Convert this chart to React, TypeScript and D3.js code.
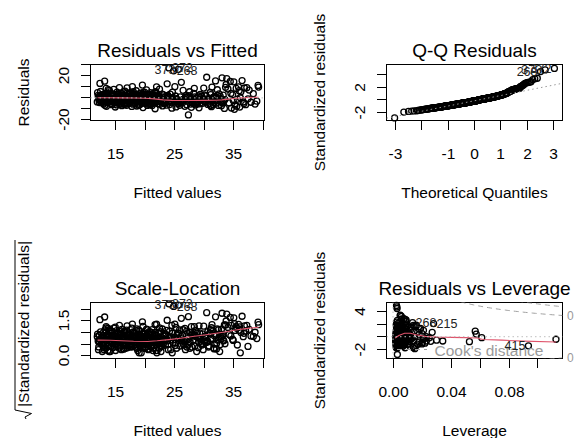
import React from "react";
import * as d3 from "d3";

// lm diagnostics: fitted values, raw residuals and hat values, one entry per observation
const fitted = [
  11.85, 11.9, 12.0, 12.1, 12.2, 13.4, 14.0, 12.3, 13.1, 13.7,
  12.4, 12.6, 12.8, 12.9, 13.0, 13.2, 13.3, 13.5, 13.6, 13.8,
  13.9, 12.5, 12.7, 13.15, 13.45, 13.95, 12.25, 12.95, 13.65, 13.35,
  14.1, 14.25, 14.3, 14.45, 14.5, 14.65, 14.7, 14.85, 14.9, 15.05,
  15.1, 15.2, 15.35, 15.4, 15.5, 15.6, 15.75, 15.8, 15.95, 16.0,
  16.1, 16.25, 16.3, 16.4, 16.55, 16.6, 16.75, 16.8, 16.9, 17.05,
  17.1, 17.2, 17.35, 17.4, 17.5, 17.65, 17.7, 17.8, 17.95, 14.35,
  14.8, 15.25, 15.65, 16.15, 16.5, 16.95, 17.3, 17.85, 15.0, 16.45,
  18.05, 18.1, 18.2, 18.3, 18.4, 18.45, 18.55, 18.6, 18.7, 18.8,
  19.5, 18.9, 19.0, 19.05, 19.15, 19.2, 19.3, 19.35, 19.45, 19.6,
  19.65, 19.7, 19.8, 19.9, 19.95, 20.05, 20.1, 20.2, 20.3, 20.35,
  21.9, 20.45, 20.5, 20.6, 20.7, 20.8, 20.85, 20.95, 21.0, 21.1,
  21.15, 21.25, 21.3, 21.4, 21.5, 21.55, 21.65, 21.7, 21.8, 21.95,
  22.1, 22.3, 22.5, 22.7, 22.9, 23.1, 23.3, 23.5, 23.7, 23.9,
  24.1, 24.0, 24.4, 24.6, 24.8, 25.0, 25.2, 25.6, 25.5, 24.7,
  25.7, 25.9, 26.0, 25.3, 24.2, 23.0, 22.4, 24.5, 25.8, 22.8,
  26.1, 26.3, 26.5, 26.7, 26.9, 27.1, 27.3, 27.5, 27.7, 27.9,
  28.1, 28.3, 28.5, 28.7, 28.9, 29.1, 29.3, 29.5, 29.7, 29.9,
  26.6, 27.2, 27.8, 28.2, 28.8, 29.4, 26.4, 29.8,
  30.1, 30.3, 30.4, 30.6, 30.8, 31.0, 31.2, 31.4, 31.6, 31.9,
  32.0, 32.2, 32.4, 32.6, 32.8, 33.0, 33.2, 33.4, 33.6, 33.8,
  30.9, 31.3, 31.7, 32.1, 32.5, 32.9, 33.3, 33.7, 30.5, 31.8,
  34.0, 34.2, 34.4, 34.6, 34.8, 35.0, 35.2, 35.4, 35.6, 35.8,
  36.0, 36.2, 36.4, 36.6, 36.8, 37.0, 37.2, 37.4, 37.6, 37.9,
  38.3, 38.6, 38.9, 39.1, 39.2, 35.1, 34.5, 35.5, 36.1, 36.7,
  35.9, 34.9,
  12.15, 12.45, 12.75, 13.05, 13.25, 13.55, 13.85, 14.15, 14.4, 14.6,
  14.95, 15.15, 15.45, 15.7, 15.9, 16.05, 16.35, 16.7, 16.85, 17.15,
  17.45, 17.6, 17.9, 18.15, 18.35, 18.5, 18.75, 18.95, 19.1, 19.25,
  19.4, 19.55, 19.75, 19.85, 20.0, 20.15, 20.25, 20.4, 20.55, 20.65,
  20.75, 20.9, 21.05, 21.2, 21.35, 21.45, 21.6, 21.75, 21.85, 22.0,
  22.2, 22.35, 22.6, 22.85, 23.05, 23.2, 23.4, 23.6, 23.8, 24.3,
  24.9, 25.1, 25.4, 26.2, 26.8, 27.0, 27.4, 27.6, 28.0, 28.4,
  28.6, 29.0, 29.2, 29.6, 30.0, 30.2, 30.7, 31.1, 31.5, 32.3,
  32.7, 33.1, 33.5, 12.05, 12.35, 12.65, 12.85, 13.25, 13.75, 14.05,
  14.55, 14.75, 15.15, 15.55, 15.85, 16.2, 16.65, 17.0, 17.25, 17.55,
  17.75, 18.0, 18.25, 18.65, 18.85, 19.05, 19.4, 19.7, 20.05, 20.35,
  20.6, 21.0, 21.3, 21.6, 21.9, 22.25, 22.65, 23.25, 23.85, 24.35,
  25.05, 26.05, 27.05, 28.05, 29.05, 30.05, 31.05, 32.05, 33.05, 16.35,
  13.0, 14.2, 15.3, 16.45, 17.6, 18.6, 19.6, 20.5, 21.5, 22.55,
  23.45, 24.55, 25.45, 26.35, 27.55, 28.45, 29.55, 30.6, 31.7, 32.8,
];

const residuals = [
  -3.7, 4.7, 2.2, -0.8, -4.2, -7.6, -2.1, 13.2, 15.2, 7.6,
  5.8, -1.5, 1.2, -5.6, 3.4, -2.9, 0.6, -4.4, 2.8, -0.9,
  6.9, -3.3, 0.2, -6.8, 4.5, -3.8, 1.9, -1.8, -0.3, 8.6,
  -2.3, 4.1, -6.2, 1.4, -0.7, 7.8, -3.9, 2.6, -8.3, 0.9,
  -1.6, 5.3, -4.8, 3.1, -2.7, 9.4, -5.9, 1.8, -0.4, -7.1,
  3.7, -3.2, 0.5, -1.1, 6.2, -4.3, 2.2, -6.7, 9.1, -2.0,
  1.0, -5.2, 4.6, -0.9, -3.6, 2.9, -7.8, 10.2, 5.7, -1.9,
  -4.6, 3.3, -2.4, 1.5, -5.5, 0.7, -3.0, 4.0, -1.3, -6.0,
  -1.2, 3.6, -5.4, 0.8, -3.1, 6.5, -7.4, 2.1, -0.3, -4.7,
  11.7, -2.2, 1.7, -6.3, 4.4, -1.7, 0.1, -3.8, 2.7, -8.8,
  5.1, -2.6, -0.6, 3.0, -5.0, 1.3, -4.0, 7.2, -1.4, -6.9,
  10.1, -3.4, 0.4, 2.4, -2.9, -5.8, 4.8, -0.8, 1.1, -3.5,
  -7.0, 3.9, -1.9, 0.6, -4.4, 2.0, -9.9, 5.6, -2.5, -0.1,
  -3.2, 1.5, -5.9, -1.1, -7.3, 2.8, -2.4, -4.6, 12.8, 0.4,
  -6.1, 27.3, -3.7, 5.2, 24.6, 10.2, -8.2, 26.0, -2.9, -1.8,
  -5.1, 1.0, -3.9, -0.6, 3.4, -4.1, 7.9, -9.4, -6.8, 0.9,
  14.2, -4.4, -1.2, -7.7, 2.3, -3.0, -15.5, 5.6, -5.6, -0.8,
  -2.6, 8.7, -6.4, 0.2, -3.5, -9.1, 3.1, -1.5, -4.9, 8.9,
  -2.0, 1.2, -8.6, 4.0, -5.3, -2.2, 6.9, -0.4,
  -3.4, 1.8, 18.8, -6.0, -1.0, 4.9, -8.0, -2.8, 0.6, 15.4,
  -4.8, 7.4, -6.9, -0.2, -3.1, 18.3, 2.5, -9.6, 9.6, 17.6,
  -5.2, 9.8, -4.1, -1.6, 3.6, -7.2, -2.3, 12.2, -2.1, 1.4,
  8.1, -4.6, 14.9, -9.3, 2.7, 14.6, -6.5, 8.6, -1.2, 10.0,
  -8.4, 5.5, 15.8, -3.7, 9.0, -6.2, 9.3, -0.9, 7.1, -4.0,
  3.8, -5.6, -3.0, 11.3, 9.8, -10.4, 4.0, -7.7, 0.1, -5.1,
  6.6, -2.4,
  -1.9, 2.4, -4.1, 0.7, -2.6, 3.9, -0.2, -5.1, 1.6, -3.3,
  0.3, -6.4, 2.0, -1.0, 4.3, -2.8, -0.5, 1.1, -4.5, 3.2,
  -2.1, 0.8, -5.7, 1.9, -1.3, 3.5, -3.6, 0.1, -0.9, 2.5,
  -4.9, 1.4, -2.0, 5.2, -0.7, -3.9, 2.9, -1.6, 0.5, -6.0,
  3.1, -2.4, 0.9, -4.6, 1.8, -1.1, 4.6, -3.0, -0.3, 2.1,
  -5.3, 0.6, -2.7, 3.4, -1.4, -4.2, 1.2, -6.6, 2.3, -0.4,
  -3.5, 1.7, -4.8, -2.3, 0.4, -6.2, 2.0, -1.9, -4.4, 1.0,
  -3.8, 0.7, -5.4, -1.2, 2.6, -4.0, -0.8, 3.0, -6.3, -2.5,
  1.3, -4.7, -1.5, 0.4, -2.7, 3.0, -1.0, 1.5, -3.6, 0.2,
  2.8, -1.8, -3.4, 0.6, -5.0, 2.3, -0.6, -2.9, 4.1, -1.2,
  0.9, -4.0, 2.6, -1.7, -6.8, 1.1, -2.2, 3.7, -0.8, -3.1,
  1.6, -5.6, 0.3, -2.1, 4.4, -3.4, -0.2, -5.0, 1.4, -2.6,
  -1.1, -3.0, 0.8, -4.9, 1.9, -2.2, -6.9, 0.5, -3.9, 5.6,
  0.4, -0.9, -2.3, 1.3, -1.5, -0.6, 0.9, -2.4, 1.7, -1.0,
  -2.8, -0.1, -3.2, -1.6, 0.6, -4.3, 1.5, -2.0, -0.5, -3.7,
];

const leverage = [
  0.0343, 0.0567, 0.0574, 0.0612, 0.0527, 0.0934, 0.1124, 0.009, 0.0075, 0.008,
  0.012, 0.013, 0.012, 0.011, 0.01, 0.01, 0.009, 0.009, 0.008, 0.008,
  0.008, 0.014, 0.015, 0.01, 0.009, 0.008, 0.018, 0.012, 0.008, 0.009,
  0.0078, 0.0076, 0.0075, 0.0073, 0.0072, 0.007, 0.007, 0.0068, 0.0067, 0.0066,
  0.0065, 0.0064, 0.0062, 0.0062, 0.0061, 0.006, 0.0058, 0.0058, 0.0057, 0.0056,
  0.0055, 0.0054, 0.0054, 0.0053, 0.0052, 0.0051, 0.005, 0.005, 0.0049, 0.0048,
  0.0048, 0.0047, 0.0046, 0.0046, 0.0045, 0.0044, 0.0044, 0.0043, 0.0042, 0.0075,
  0.0069, 0.0063, 0.0059, 0.0055, 0.0052, 0.0049, 0.0046, 0.0043, 0.0066, 0.0053,
  0.0042, 0.0042, 0.0041, 0.0041, 0.004, 0.004, 0.0039, 0.0039, 0.0038, 0.0038,
  0.0034, 0.0037, 0.0037, 0.0036, 0.0036, 0.0036, 0.0035, 0.0035, 0.0034, 0.0034,
  0.0033, 0.0033, 0.0033, 0.0032, 0.0032, 0.0032, 0.0031, 0.0031, 0.0031, 0.003,
  0.0027, 0.003, 0.003, 0.0029, 0.0029, 0.0029, 0.0028, 0.0028, 0.0028, 0.0028,
  0.0027, 0.0027, 0.0027, 0.0027, 0.0026, 0.0026, 0.0026, 0.0026, 0.0026, 0.0025,
  0.0025, 0.0024, 0.0024, 0.0024, 0.0023, 0.0023, 0.0023, 0.0023, 0.0025, 0.0022,
  0.0022, 0.0024, 0.0022, 0.0022, 0.0028, 0.0022, 0.0022, 0.0026, 0.0022, 0.0022,
  0.0022, 0.0023, 0.0023, 0.0022, 0.0022, 0.0023, 0.0024, 0.0022, 0.0023, 0.0024,
  0.003, 0.0024, 0.0025, 0.0025, 0.0026, 0.0026, 0.003, 0.0027, 0.0028, 0.0028,
  0.0029, 0.003, 0.003, 0.0031, 0.0032, 0.0033, 0.0034, 0.0035, 0.0036, 0.0037,
  0.0025, 0.0026, 0.0028, 0.0029, 0.0031, 0.0034, 0.0025, 0.0037,
  0.004, 0.0042, 0.005, 0.0044, 0.0046, 0.0048, 0.005, 0.0052, 0.0055, 0.006,
  0.0062, 0.0065, 0.0068, 0.0071, 0.0074, 0.005, 0.008, 0.0083, 0.0086, 0.0058,
  0.0047, 0.0051, 0.0057, 0.0063, 0.007, 0.0076, 0.0082, 0.0135, 0.0043, 0.0059,
  0.012, 0.018, 0.0085, 0.014, 0.02, 0.009, 0.017, 0.013, 0.022, 0.016,
  0.015, 0.021, 0.0075, 0.023, 0.015, 0.02, 0.016, 0.025, 0.019, 0.026,
  0.027, 0.022, 0.03, 0.028, 0.014, 0.015, 0.017, 0.016, 0.023, 0.02,
  0.018, 0.021,
  0.012, 0.011, 0.011, 0.01, 0.01, 0.009, 0.008, 0.0077, 0.0074, 0.0071,
  0.0067, 0.0065, 0.0062, 0.006, 0.0057, 0.0056, 0.0054, 0.0051, 0.005, 0.0048,
  0.0046, 0.0045, 0.0043, 0.0042, 0.0041, 0.004, 0.0039, 0.0038, 0.0037, 0.0036,
  0.0035, 0.0034, 0.0034, 0.0033, 0.0032, 0.0032, 0.0031, 0.0031, 0.003, 0.0029,
  0.0029, 0.0028, 0.0028, 0.0027, 0.0027, 0.0027, 0.0026, 0.0026, 0.0026, 0.0025,
  0.0025, 0.0024, 0.0024, 0.0023, 0.0023, 0.0023, 0.0023, 0.0022, 0.0022, 0.0022,
  0.0022, 0.0022, 0.0022, 0.0024, 0.0025, 0.0026, 0.0027, 0.0027, 0.0028, 0.003,
  0.003, 0.0032, 0.0034, 0.0035, 0.0038, 0.004, 0.0045, 0.0049, 0.0053, 0.0066,
  0.0072, 0.0078, 0.0084, 0.012, 0.011, 0.011, 0.01, 0.01, 0.009, 0.0078,
  0.0072, 0.007, 0.0065, 0.0061, 0.0058, 0.0055, 0.0051, 0.0048, 0.0047, 0.0045,
  0.0044, 0.0042, 0.0041, 0.0039, 0.0038, 0.0037, 0.0035, 0.0034, 0.0032, 0.0031,
  0.003, 0.0028, 0.0027, 0.0026, 0.0026, 0.0025, 0.0024, 0.0023, 0.0022, 0.0022,
  0.0022, 0.0024, 0.0026, 0.0029, 0.0033, 0.0039, 0.0048, 0.0061, 0.0077, 0.0054,
  0.01, 0.0077, 0.0063, 0.0053, 0.0045, 0.0039, 0.0034, 0.003, 0.0027, 0.0024,
  0.0023, 0.0022, 0.0022, 0.0024, 0.0027, 0.003, 0.0035, 0.0044, 0.0056, 0.0074,
];

const sigma = 5.5; // residual standard error
const rank = 3;
const residIds = ["372", "373", "268"]; // three largest |standardized residual|
const cookIds = ["415", "215", "268"]; // three largest Cook's distances
const cookLevels = [0.5, 1];

// red smoothers
const rvfSmoothX = [11.9, 14, 16, 18, 20, 21.5, 23, 24.5, 26, 28, 30, 32, 33, 34, 35, 36, 37, 39.2];
const rvfSmoothY = [0.1, 0.1, 0, -0.1, -0.3, -0.9, -1.8, -2.3, -2.4, -2.4, -2.3, -2.1, -1.8, -1.1, -0.5, -0.1, 0.2, 0.6];
const slSmoothX = [11.9, 14, 16, 18, 20.4, 22, 24, 26, 28, 30, 32, 34, 35.3, 37, 39.2];
const slSmoothY = [0.68, 0.67, 0.65, 0.63, 0.62, 0.65, 0.7, 0.76, 0.83, 0.9, 0.97, 1.05, 1.11, 1.17, 1.23];
const levSmoothX = [0.0015, 0.004, 0.008, 0.012, 0.016, 0.022, 0.03, 0.04, 0.05, 0.058, 0.062, 0.075, 0.09, 0.1124];
const levSmoothY = [-0.2, 0.2, 0.55, 0.55, 0.3, 0.05, -0.05, -0.1, -0.15, -0.2, -0.45, -0.55, -0.7, -0.85];

// axis ticks
const fittedTicks = [15, 20, 25, 30, 35, 40];
const fittedTickLabels = ["15", "", "25", "", "35", ""];
const residTicks = [-20, -10, 0, 10, 20, 30];
const residTickLabels = ["-20", "", "", "", "20", ""];
const qTicks = [-3, -2, -1, 0, 1, 2, 3];
const qTickLabels = ["-3", "", "-1", "0", "1", "2", "3"];
const stdTicks = [-2, 0, 2, 4];
const qqStdTickLabels = ["-2", "", "2", ""];
const levStdTickLabels = ["-2", "", "", "4"];
const slTicks = [0, 0.5, 1, 1.5, 2];
const slTickLabels = ["0.0", "", "", "1.5", ""];
const levTicks = [0, 0.02, 0.04, 0.06, 0.08, 0.1];
const levTickLabels = ["0.00", "", "0.04", "", "0.08", ""];

const FONT = "'Liberation Sans', Arial, Helvetica, sans-serif";
const RED = "#DF536B";
const GRAY = "#BEBEBE";

// inverse normal cdf (Acklam)
function qnorm(p) {
  const a = [-39.69683028665376, 220.9460984245205, -275.9285104469687, 138.357751867269, -30.66479806614716, 2.506628277459239];
  const b = [-54.47609879822406, 161.5858368580409, -155.6989798598866, 66.80131188771972, -13.28068155288572];
  const c = [-0.007784894002430293, -0.3223964580411365, -2.400758277161838, -2.549732539343734, 4.374664141464968, 2.938163982698783];
  const d = [0.007784695709041462, 0.3224671290700398, 2.445134137142996, 3.754408661907416];
  const tail = (q) =>
    (((((c[0] * q + c[1]) * q + c[2]) * q + c[3]) * q + c[4]) * q + c[5]) /
    ((((d[0] * q + d[1]) * q + d[2]) * q + d[3]) * q + 1);
  if (p < 0.02425) return tail(Math.sqrt(-2 * Math.log(p)));
  if (p > 1 - 0.02425) return -tail(Math.sqrt(-2 * Math.log(1 - p)));
  const q = p - 0.5;
  const r = q * q;
  return ((((((a[0] * r + a[1]) * r + a[2]) * r + a[3]) * r + a[4]) * r + a[5]) * q) /
    (((((b[0] * r + b[1]) * r + b[2]) * r + b[3]) * r + b[4]) * r + 1);
}

const n = fitted.length;
const stdRes = residuals.map((r, i) => r / (sigma * Math.sqrt(1 - leverage[i])));
const sqrtStd = stdRes.map((s) => Math.sqrt(Math.abs(s)));
const cook = stdRes.map((s, i) => (s * s * leverage[i]) / (rank * (1 - leverage[i])));
const topResid = d3.range(n).sort((a, b) => Math.abs(stdRes[b]) - Math.abs(stdRes[a])).slice(0, 3);
const topCook = d3.range(n).sort((a, b) => cook[b] - cook[a]).slice(0, 3);
const order = d3.range(n).sort((a, b) => stdRes[a] - stdRes[b]);
const theo = new Array(n);
order.forEach((idx, k) => (theo[idx] = qnorm((k + 0.5) / n)));
const sortedStd = order.map((i) => stdRes[i]);
const qy1 = d3.quantile(sortedStd, 0.25);
const qy3 = d3.quantile(sortedStd, 0.75);
const qx1 = qnorm(0.25);
const qqSlope = (qy3 - qy1) / (-2 * qx1);
const qqInt = qy1 - qqSlope * qx1;

const boxes = {
  rvf: { l: 90.5, r: 264.5, t: 64.5, b: 120.5 },
  qq: { l: 386.5, r: 562.5, t: 64.5, b: 120.5 },
  sl: { l: 90.5, r: 264.5, t: 302.5, b: 358.5 },
  lev: { l: 386.5, r: 562.5, t: 302.5, b: 358.5 },
};

function Frame({ id, box, x, y, xTicks, xLabels, yTicks, yLabels, title, xTitle, yTitle }) {
  const cx = (box.l + box.r) / 2;
  const cy = (box.t + box.b) / 2;
  return (
    <g fontSize={15.5} fill="#000">
      <defs>
        <clipPath id={"clip-" + id}>
          <rect x={box.l} y={box.t} width={box.r - box.l} height={box.b - box.t} />
        </clipPath>
      </defs>
      <rect x={box.l} y={box.t} width={box.r - box.l} height={box.b - box.t} fill="none" stroke="#000" />
      {xTicks.map((v, i) => {
        const px = Math.round(x(v) - 0.5) + 0.5;
        return (
          <g key={"xt" + i}>
            <line x1={px} x2={px} y1={box.b} y2={box.b + 9.5} stroke="#000" />
            {xLabels[i] && (
              <text x={px} y={box.b + 38} textAnchor="middle">
                {xLabels[i]}
              </text>
            )}
          </g>
        );
      })}
      {yTicks.map((v, i) => {
        const py = Math.round(y(v) - 0.5) + 0.5;
        return (
          <g key={"yt" + i}>
            <line x1={box.l - 9.5} x2={box.l} y1={py} y2={py} stroke="#000" />
            {yLabels[i] && (
              <text transform={`translate(${box.l - 21.5},${py}) rotate(-90)`} textAnchor="middle">
                {yLabels[i]}
              </text>
            )}
          </g>
        );
      })}
      <text x={cx} y={box.t - 7.5} textAnchor="middle" fontSize={19}>
        {title}
      </text>
      <text x={cx} y={box.b + 77} textAnchor="middle">
        {xTitle}
      </text>
      {typeof yTitle === "string" ? (
        <text transform={`translate(${box.l - 62},${cy}) rotate(-90)`} textAnchor="middle">
          {yTitle}
        </text>
      ) : (
        <g transform={`translate(${box.l - 62},${cy}) rotate(-90)`}>{yTitle}</g>
      )}
    </g>
  );
}

function Points({ xs, ys, x, y }) {
  return (
    <g fill="none" stroke="#000" strokeWidth={1.3}>
      {xs.map((v, i) => (
        <circle key={i} cx={x(v)} cy={y(ys[i])} r={3} />
      ))}
    </g>
  );
}

function IdLabels({ idx, names, xs, ys, x, y }) {
  const mid = d3.mean(x.domain());
  return (
    <g fontSize={12.5} fill="#222">
      {idx.map((i, k) => {
        const left = xs[i] > mid;
        return (
          <text key={k} x={x(xs[i]) + (left ? -3 : 3)} y={y(ys[i]) + 4.3} textAnchor={left ? "end" : "start"}>
            {names[k]}
          </text>
        );
      })}
    </g>
  );
}

function Smooth({ xs, ys, x, y, clip }) {
  const line = d3
    .line()
    .x((d) => x(d[0]))
    .y((d) => y(d[1]));
  return <path d={line(xs.map((v, i) => [v, ys[i]]))} fill="none" stroke={RED} strokeWidth={1.1} clipPath={clip} />;
}

function ResidualsFitted() {
  const box = boxes.rvf;
  const x = d3.scaleLinear().domain([10.7, 40.2]).range([box.l, box.r]);
  const y = d3.scaleLinear().domain([-20.6, 30.4]).range([box.b, box.t]);
  return (
    <g>
      <Frame id="rvf" box={box} x={x} y={y} xTicks={fittedTicks} xLabels={fittedTickLabels} yTicks={residTicks}
        yLabels={residTickLabels} title="Residuals vs Fitted" xTitle="Fitted values" yTitle="Residuals" />
      <Points xs={fitted} ys={residuals} x={x} y={y} />
      <Smooth xs={rvfSmoothX} ys={rvfSmoothY} x={x} y={y} clip="url(#clip-rvf)" />
      <line x1={box.l} x2={box.r} y1={y(0)} y2={y(0)} stroke={GRAY} strokeDasharray="1.5,3" />
      <IdLabels idx={topResid} names={residIds} xs={fitted} ys={residuals} x={x} y={y} />
    </g>
  );
}

function QQPanel() {
  const box = boxes.qq;
  const x = d3.scaleLinear().domain([-3.33, 3.33]).range([box.l, box.r]);
  const y = d3.scaleLinear().domain([-3.23, 5.59]).range([box.b, box.t]);
  const [x0, x1] = x.domain();
  return (
    <g>
      <Frame id="qq" box={box} x={x} y={y} xTicks={qTicks} xLabels={qTickLabels} yTicks={stdTicks}
        yLabels={qqStdTickLabels} title="Q-Q Residuals" xTitle="Theoretical Quantiles" yTitle="Standardized residuals" />
      <Points xs={theo} ys={stdRes} x={x} y={y} />
      <line x1={x(x0)} x2={x(x1)} y1={y(qqInt + qqSlope * x0)} y2={y(qqInt + qqSlope * x1)} stroke="#999"
        strokeDasharray="1.5,3" clipPath="url(#clip-qq)" />
      <IdLabels idx={topResid} names={residIds} xs={theo} ys={stdRes} x={x} y={y} />
    </g>
  );
}

function ScaleLocation() {
  const box = boxes.sl;
  const x = d3.scaleLinear().domain([10.7, 40.2]).range([box.l, box.r]);
  const y = d3.scaleLinear().domain([-0.107, 2.286]).range([box.b, box.t]);
  const W = 166;
  const yTitle = (
    <g transform="translate(2.5,0)">
      <text x={4} y={0} textAnchor="middle" textLength={W}>
        |Standardized residuals|
      </text>
      <path d={`M${4 - W / 2 - 12},${-2.5} l2,-1 l3.5,6.5 l3.5,-16.5 H${4 + W / 2 + 1}`} fill="none" stroke="#000" strokeWidth={1} />
    </g>
  );
  return (
    <g>
      <Frame id="sl" box={box} x={x} y={y} xTicks={fittedTicks} xLabels={fittedTickLabels} yTicks={slTicks}
        yLabels={slTickLabels} title="Scale-Location" xTitle="Fitted values" yTitle={yTitle} />
      <Points xs={fitted} ys={sqrtStd} x={x} y={y} />
      <Smooth xs={slSmoothX} ys={slSmoothY} x={x} y={y} clip="url(#clip-sl)" />
      <IdLabels idx={topResid} names={residIds} xs={fitted} ys={sqrtStd} x={x} y={y} />
    </g>
  );
}

function LeveragePanel() {
  const box = boxes.lev;
  const x = d3.scaleLinear().domain([-0.0045, 0.1169]).range([box.l, box.r]);
  const y = d3.scaleLinear().domain([-3.46, 5.43]).range([box.b, box.t]);
  const hMax = x.domain()[1];
  const hMin = Math.min(d3.min(leverage), d3.max(leverage) / 100);
  const hh = d3.range(101).map((i) => hMin + ((hMax - hMin) * i) / 100);
  const line = d3
    .line()
    .x((d) => x(d[0]))
    .y((d) => y(d[1]));
  const ymult = Math.sqrt((rank * (1 - hMax)) / hMax);
  const [yLo, yHi] = y.domain();
  return (
    <g>
      <Frame id="lev" box={box} x={x} y={y} xTicks={levTicks} xLabels={levTickLabels} yTicks={stdTicks}
        yLabels={levStdTickLabels} title="Residuals vs Leverage" xTitle="Leverage" yTitle="Standardized residuals" />
      <Points xs={leverage} ys={stdRes} x={x} y={y} />
      <Smooth xs={levSmoothX} ys={levSmoothY} x={x} y={y} clip="url(#clip-lev)" />
      <g stroke={GRAY} strokeDasharray="1.5,3" clipPath="url(#clip-lev)">
        <line x1={box.l} x2={box.r} y1={y(0)} y2={y(0)} />
        <line x1={x(0)} x2={x(0)} y1={box.t} y2={box.b} />
      </g>
      <g fill="none" stroke="#A0A0A0" strokeDasharray="5,4" clipPath="url(#clip-lev)">
        {cookLevels.map((crit) => {
          const up = hh.map((h) => [h, Math.sqrt((crit * rank * (1 - h)) / h)]);
          return (
            <g key={crit}>
              <path d={line(up)} />
              <path d={line(up.map((d) => [d[0], -d[1]]))} />
            </g>
          );
        })}
      </g>
      <line x1={box.l + 10.5} x2={box.l + 40.5} y1={box.b - 9} y2={box.b - 9} stroke="#A0A0A0" strokeDasharray="5,4" />
      <text x={box.l + 48} y={box.b - 2.5} fontSize={15.5} fill="#9A9A9A">
        Cook's distance
      </text>
      <IdLabels idx={topCook} names={cookIds} xs={leverage} ys={stdRes} x={x} y={y} />
      <g fontSize={12} fill="#9A9A9A">
        {[-Math.sqrt(0.5) * ymult, Math.sqrt(0.5) * ymult]
          .filter((v) => v >= yLo - 0.1 && v <= yHi)
          .map((v, i) => (
            <text key={i} x={box.r + 4.5} y={y(v) + 4.3}>
              0.5
            </text>
          ))}
      </g>
    </g>
  );
}

export default function App() {
  return (
    <svg width={574} height={438} viewBox="0 0 574 438" fontFamily={FONT}
      style={{ position: "absolute", left: 0, top: 0, display: "block", background: "#fff" }}>
      <rect width={574} height={438} fill="#fff" />
      <ResidualsFitted />
      <QQPanel />
      <ScaleLocation />
      <LeveragePanel />
    </svg>
  );
}
